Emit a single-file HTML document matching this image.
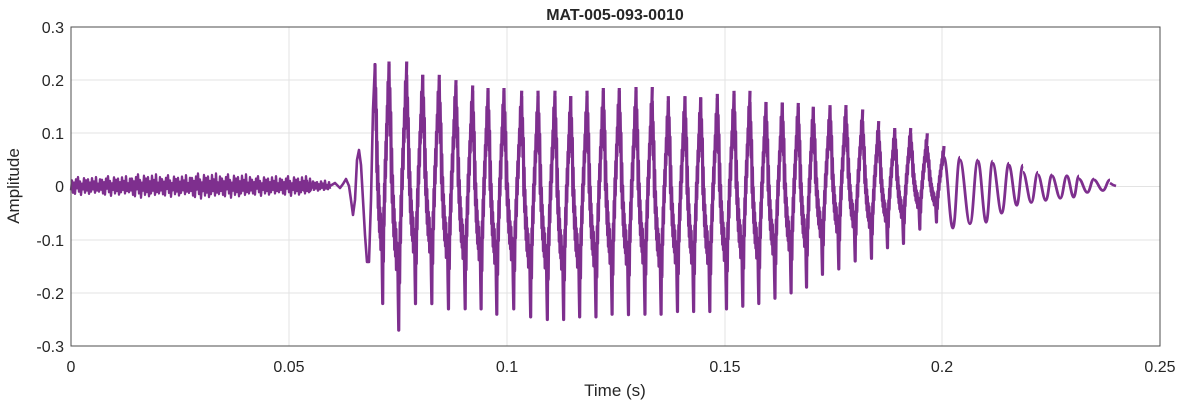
<!DOCTYPE html>
<html><head><meta charset="utf-8"><style>
html,body{margin:0;padding:0;background:#fff;}
svg{display:block;font-family:"Liberation Sans",Arial,sans-serif;}
</style></head><body>
<svg width="1182" height="404" xmlns="http://www.w3.org/2000/svg" xmlns:xlink="http://www.w3.org/1999/xlink">
<defs>
<path id="cy" d="M0,-1 L0.03,-0.6 L0.05,-0.8 L0.08,-0.45 L0.1,-0.62 L0.13,-0.1 L0.15,-0.35 L0.18,0.05 L0.2,-0.15 L0.23,0.2 L0.25,0 L0.27,0.3 L0.29,0.1 L0.32,0.4 L0.34,0.2 L0.37,0.45 L0.39,0.25 L0.42,0.55 L0.44,0.35 L0.47,0.5 L0.49,0.4 L0.52,0.75 L0.55,1 L0.57,0.5 L0.6,0.65 L0.63,0.2 L0.65,0.35 L0.68,0 L0.7,0.15 L0.73,-0.2 L0.75,-0.05 L0.78,-0.35 L0.8,-0.2 L0.83,-0.5 L0.85,-0.4 L0.88,-0.65 L0.9,-0.5 L0.93,-0.85 L0.96,-0.75 L1,-1" fill="none" stroke="#7E2F8E" stroke-width="3.2" stroke-linejoin="round" vector-effect="non-scaling-stroke"/>
<path id="cs" d="M0,-1 C0.2,-1 0.35,1 0.55,1 C0.75,1 0.8,-1 1,-1" fill="none" stroke="#7E2F8E" stroke-width="2.8" vector-effect="non-scaling-stroke"/>
<polyline id="nz" fill="none" stroke="#7E2F8E" stroke-width="2.4" stroke-linejoin="round" points="0,4 1,-5 2,6 3,-3 4,7 5,-6 6,2 7,-8 8,5 9,-4 10,8 11,-2 12,3 13,-7 14,6 15,-5 16,4 17,-6 18,7 19,-3 20,5 21,-7 22,3 23,-4 24,6 25,-8 26,4 27,-2 28,5 29,-6 30,4"/>
</defs>
<rect x="0" y="0" width="1182" height="404" fill="#fff"/>
<g stroke="#e3e3e3" stroke-width="1">
<line x1="289" y1="27" x2="289" y2="346"/><line x1="507" y1="27" x2="507" y2="346"/>
<line x1="725" y1="27" x2="725" y2="346"/><line x1="942" y1="27" x2="942" y2="346"/>
<line x1="71" y1="80" x2="1160" y2="80"/><line x1="71" y1="133" x2="1160" y2="133"/>
<line x1="71" y1="186.5" x2="1160" y2="186.5"/><line x1="71" y1="240" x2="1160" y2="240"/>
<line x1="71" y1="293" x2="1160" y2="293"/>
</g>
<g>
<use xlink:href="#nz" transform="translate(71,186) scale(1,1.1)"/>
<use xlink:href="#nz" transform="translate(101,186) scale(1,1.2)"/>
<use xlink:href="#nz" transform="translate(131,186) scale(1,1.4)"/>
<use xlink:href="#nz" transform="translate(161,186) scale(1,1.3)"/>
<use xlink:href="#nz" transform="translate(191,186) scale(1,1.5)"/>
<use xlink:href="#nz" transform="translate(221,186) scale(1,1.4)"/>
<use xlink:href="#nz" transform="translate(251,186) scale(1,1.2)"/>
<use xlink:href="#nz" transform="translate(281,186) scale(1,1.2)"/>
<use xlink:href="#nz" transform="translate(300,186) scale(1,0.7)"/>
<polyline fill="none" stroke="#7E2F8E" stroke-width="2.6" stroke-linejoin="round" points="330,186 335,183 340,188 343,184 346,179 349,186 351,200 353,215 355,200 357,160 359,150 361,165 363,200 365,235 367,262 369,262 371,200 373,110 375,63"/>
</g>
<g>
<use xlink:href="#cy" transform="translate(375,183.8) scale(14,119.7)"/>
<use xlink:href="#cy" transform="translate(389,195.8) scale(17.7,134.3)"/>
<use xlink:href="#cy" transform="translate(406.7,189.2) scale(16,114.4)"/>
<use xlink:href="#cy" transform="translate(422.7,189.2) scale(16.6,114.4)"/>
<use xlink:href="#cy" transform="translate(439.3,194.5) scale(16.7,114.4)"/>
<use xlink:href="#cy" transform="translate(456,197.1) scale(16.7,111.7)"/>
<use xlink:href="#cy" transform="translate(472.7,199.8) scale(15.3,109.1)"/>
<use xlink:href="#cy" transform="translate(488,201.1) scale(16,113.1)"/>
<use xlink:href="#cy" transform="translate(504,199.8) scale(17.7,109.1)"/>
<use xlink:href="#cy" transform="translate(521.7,206.5) scale(16.3,110.4)"/>
<use xlink:href="#cy" transform="translate(538,205.1) scale(17,114.4)"/>
<use xlink:href="#cy" transform="translate(555,207.8) scale(15.7,111.7)"/>
<use xlink:href="#cy" transform="translate(570.7,206.5) scale(16.3,110.4)"/>
<use xlink:href="#cy" transform="translate(587,203.8) scale(16.3,113.1)"/>
<use xlink:href="#cy" transform="translate(603.3,201.1) scale(16,113.1)"/>
<use xlink:href="#cy" transform="translate(619.3,202.6) scale(16.7,112)"/>
<use xlink:href="#cy" transform="translate(636,200.6) scale(16.3,113.6)"/>
<use xlink:href="#cy" transform="translate(652.3,207.5) scale(16,106.7)"/>
<use xlink:href="#cy" transform="translate(668.3,203.8) scale(16.7,107.7)"/>
<use xlink:href="#cy" transform="translate(685,204.3) scale(15.7,107.2)"/>
<use xlink:href="#cy" transform="translate(700.7,204.8) scale(16.6,106.7)"/>
<use xlink:href="#cy" transform="translate(717.3,201.4) scale(16.7,107.5)"/>
<use xlink:href="#cy" transform="translate(734,198.5) scale(16,107.7)"/>
<use xlink:href="#cy" transform="translate(750,202.7) scale(16,100.8)"/>
<use xlink:href="#cy" transform="translate(766,200.3) scale(16.3,97.9)"/>
<use xlink:href="#cy" transform="translate(782.3,197.9) scale(16,95)"/>
<use xlink:href="#cy" transform="translate(798.3,196.9) scale(15,90.2)"/>
<use xlink:href="#cy" transform="translate(813.3,191) scale(16.7,83.3)"/>
<use xlink:href="#cy" transform="translate(830,187) scale(16,81.9)"/>
<use xlink:href="#cy" transform="translate(846,185.2) scale(16.7,75.8)"/>
<use xlink:href="#cy" transform="translate(862.7,189.7) scale(16,68.6)"/>
<use xlink:href="#cy" transform="translate(878.7,188.9) scale(16,58.8)"/>
<use xlink:href="#cy" transform="translate(894.7,185.7) scale(16,57.7)"/>
<use xlink:href="#cy" transform="translate(910.7,181.2) scale(16.6,47.9)"/>
<use xlink:href="#cy" transform="translate(927.3,184) scale(16.7,38)"/>
<use xlink:href="#cs" transform="translate(944,192.6) scale(16,35.4)"/>
<use xlink:href="#cs" transform="translate(960,191.8) scale(18,31.9)"/>
<use xlink:href="#cs" transform="translate(978,191.6) scale(14.7,30.6)"/>
<use xlink:href="#cs" transform="translate(992.7,188.1) scale(16.3,25)"/>
<use xlink:href="#cs" transform="translate(1009,185.2) scale(14,20)"/>
<use xlink:href="#cs" transform="translate(1023,187.3) scale(15,15.2)"/>
<use xlink:href="#cs" transform="translate(1038,187.6) scale(14,12.8)"/>
<use xlink:href="#cs" transform="translate(1052,187) scale(15,11.2)"/>
<use xlink:href="#cs" transform="translate(1067,186.5) scale(12,10.6)"/>
<use xlink:href="#cs" transform="translate(1079,185.7) scale(15,6.7)"/>
<use xlink:href="#cs" transform="translate(1094,185.2) scale(16,5.3)"/>
<polyline fill="none" stroke="#7E2F8E" stroke-width="2.6" points="1110,183 1113,185 1116,186"/>
</g>
<rect x="71" y="27" width="1089" height="319" fill="none" stroke="#4d4d4d" stroke-width="1"/>
<g fill="#262626" font-size="16">
<text x="71" y="372" text-anchor="middle">0</text>
<text x="289" y="372" text-anchor="middle">0.05</text>
<text x="507" y="372" text-anchor="middle">0.1</text>
<text x="725" y="372" text-anchor="middle">0.15</text>
<text x="942" y="372" text-anchor="middle">0.2</text>
<text x="1160" y="372" text-anchor="middle">0.25</text>
<text x="64" y="33" text-anchor="end">0.3</text>
<text x="64" y="86" text-anchor="end">0.2</text>
<text x="64" y="139" text-anchor="end">0.1</text>
<text x="64" y="192" text-anchor="end">0</text>
<text x="64" y="246" text-anchor="end">-0.1</text>
<text x="64" y="299" text-anchor="end">-0.2</text>
<text x="64" y="352" text-anchor="end">-0.3</text>
<text x="615" y="396" text-anchor="middle" font-size="17">Time (s)</text>
<text transform="translate(19,186) rotate(-90)" text-anchor="middle" font-size="17">Amplitude</text>
<text x="615" y="20" text-anchor="middle" font-size="16" font-weight="bold">MAT-005-093-0010</text>
</g>
</svg>
</body></html>
